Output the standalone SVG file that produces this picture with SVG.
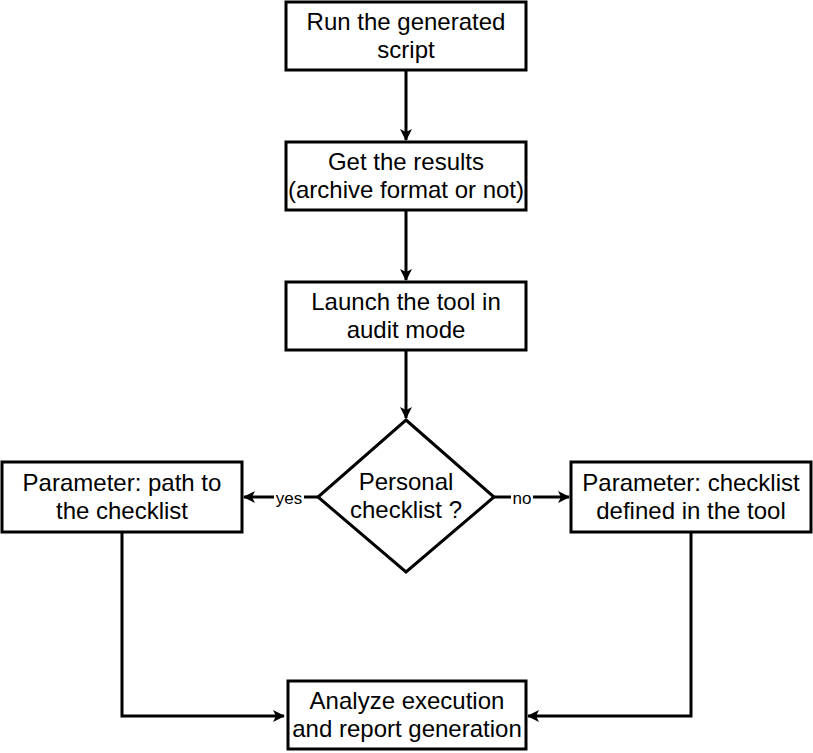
<svg xmlns="http://www.w3.org/2000/svg" width="813" height="753" viewBox="0 0 813 753">
<defs>
<style>
.box{fill:#fff;stroke:#000;stroke-width:3}
.t{font-family:"Liberation Sans",Arial,sans-serif;font-size:24px;fill:#000;text-anchor:middle}
.e{fill:none;stroke:#000;stroke-width:3}
.lbl{font-family:"Liberation Sans",Arial,sans-serif;font-size:17px;fill:#000;text-anchor:middle;dominant-baseline:central}
</style>
<marker id="ah" viewBox="0 0 12 12" refX="11" refY="6" markerWidth="12" markerHeight="12" markerUnits="userSpaceOnUse" orient="auto">
<path d="M0,0 L12,6 L0,12 L3,6 Z" fill="#000"/>
</marker>
</defs>
<rect width="813" height="753" fill="#fff"/>
<g id="connectors">
<line class="e" x1="406" y1="70" x2="406" y2="140" marker-end="url(#ah)"/>
<line class="e" x1="406" y1="210" x2="406" y2="280" marker-end="url(#ah)"/>
<line class="e" x1="406" y1="350" x2="406" y2="418" marker-end="url(#ah)"/>
<line class="e" x1="318" y1="497" x2="244" y2="497" marker-end="url(#ah)"/>
<rect x="274" y="487" width="30" height="20" fill="#fff"/>
<text class="lbl" x="289" y="498">yes</text>
<line class="e" x1="494" y1="497" x2="569" y2="497" marker-end="url(#ah)"/>
<rect x="511" y="487" width="22" height="20" fill="#fff"/>
<text class="lbl" x="522" y="498">no</text>
<polyline class="e" points="122,532 122,716 284,716" marker-end="url(#ah)"/>
<polyline class="e" points="691,532 691,716 528,716" marker-end="url(#ah)"/>
</g>
<g id="n1">
<rect class="box" x="286" y="2" width="240" height="68"/>
<text class="t" x="406" y="30">Run the generated</text>
<text class="t" x="406" y="58">script</text>
</g>
<g id="n2">
<rect class="box" x="286" y="142" width="240" height="68"/>
<text class="t" x="406" y="170">Get the results</text>
<text class="t" x="406" y="198">(archive format or not)</text>
</g>
<g id="n3">
<rect class="box" x="286" y="282" width="240" height="68"/>
<text class="t" x="406" y="310">Launch the tool in</text>
<text class="t" x="406" y="338">audit mode</text>
</g>
<g id="n4">
<polygon class="box" points="406,420 494,497 406,572 318,497"/>
<text class="t" x="406" y="490">Personal</text>
<text class="t" x="406" y="518">checklist ?</text>
</g>
<g id="n5">
<rect class="box" x="2" y="462" width="240" height="70"/>
<text class="t" x="122" y="491">Parameter: path to</text>
<text class="t" x="122" y="519">the checklist</text>
</g>
<g id="n6">
<rect class="box" x="571" y="462" width="240" height="70"/>
<text class="t" x="691" y="491">Parameter: checklist</text>
<text class="t" x="691" y="519">defined in the tool</text>
</g>
<g id="n7">
<rect class="box" x="288" y="681" width="238" height="68"/>
<text class="t" x="407" y="709">Analyze execution</text>
<text class="t" x="407" y="737">and report generation</text>
</g>
</svg>
